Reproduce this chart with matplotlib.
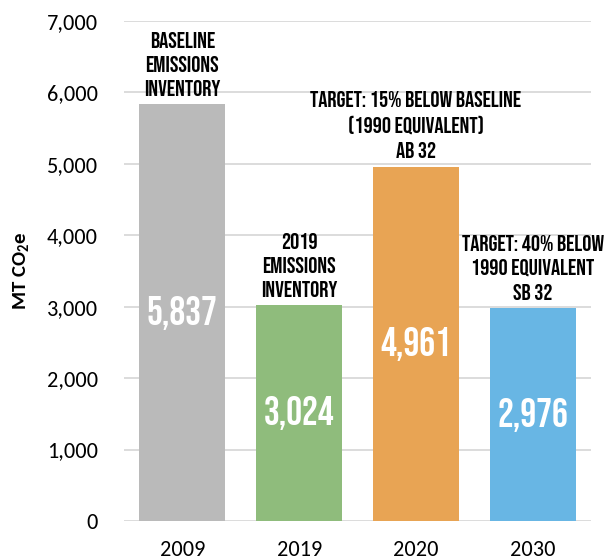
import matplotlib
matplotlib.use("Agg")
import matplotlib.pyplot as plt
from matplotlib import font_manager

# Emissions by year
years = ["2009", "2019", "2020", "2030"]
emissions = [5837, 3024, 4961, 2976]
notes = [
    "BASELINE\nEMISSIONS\nINVENTORY",
    "2019\nEMISSIONS\nINVENTORY",
    "TARGET: 15% BELOW BASELINE\n(1990 EQUIVALENT)\nAB 32",
    "TARGET: 40% BELOW\n1990 EQUIVALENT\nSB 32",
]
colors = ["#BABABA", "#8FBC7C", "#E8A454", "#68B6E4"]
yticks = [0, 1000, 2000, 3000, 4000, 5000, 6000, 7000]


def pick(candidates):
    have = {f.name for f in font_manager.fontManager.ttflist}
    for c in candidates:
        if c in have:
            return [c, "DejaVu Sans"]
    return ["DejaVu Sans"]


narrow = pick(["Bebas Neue", "Oswald", "Barlow Condensed", "Roboto Condensed", "Asap Condensed"])
plain = pick(["Carlito", "Open Sans"])

fig = plt.figure(figsize=(6.08, 5.6), dpi=100)
ax = fig.add_axes([0.204, 0.0696, 0.768, 0.893])

x = range(len(years))
ax.bar(x, emissions, width=0.735, color=colors, zorder=2)

for i, v in enumerate(emissions):
    ax.text(i, v / 2, f"{v:,}", ha="center", va="center", color="white",
            fontsize=28.5, family=narrow, zorder=3)
    ax.annotate(notes[i], (i, v), xytext=(0, 6), textcoords="offset points",
                ha="center", va="bottom", fontsize=16.5,
                family=narrow, linespacing=1.5, zorder=3)

ax.set_xlim(-0.5, 3.5)
ax.set_ylim(0, 7000)
ax.set_yticks(yticks)
ax.set_yticklabels([f"{t:,}" for t in yticks], family=plain, fontsize=16)
ax.set_xticks(list(x))
ax.set_xticklabels(years, family=plain, fontsize=16)
ax.tick_params(length=0)
ax.tick_params(axis="y", pad=19)
ax.tick_params(axis="x", pad=14)
ax.grid(axis="y", color="#D9D9D9", linewidth=1.3, zorder=0)
for s in ax.spines.values():
    s.set_visible(False)
ax.set_ylabel(r"MT CO$\mathregular{_2}$e", fontsize=15, fontweight="bold",
              family=plain, labelpad=11)

fig.savefig("out.png", dpi=100)
